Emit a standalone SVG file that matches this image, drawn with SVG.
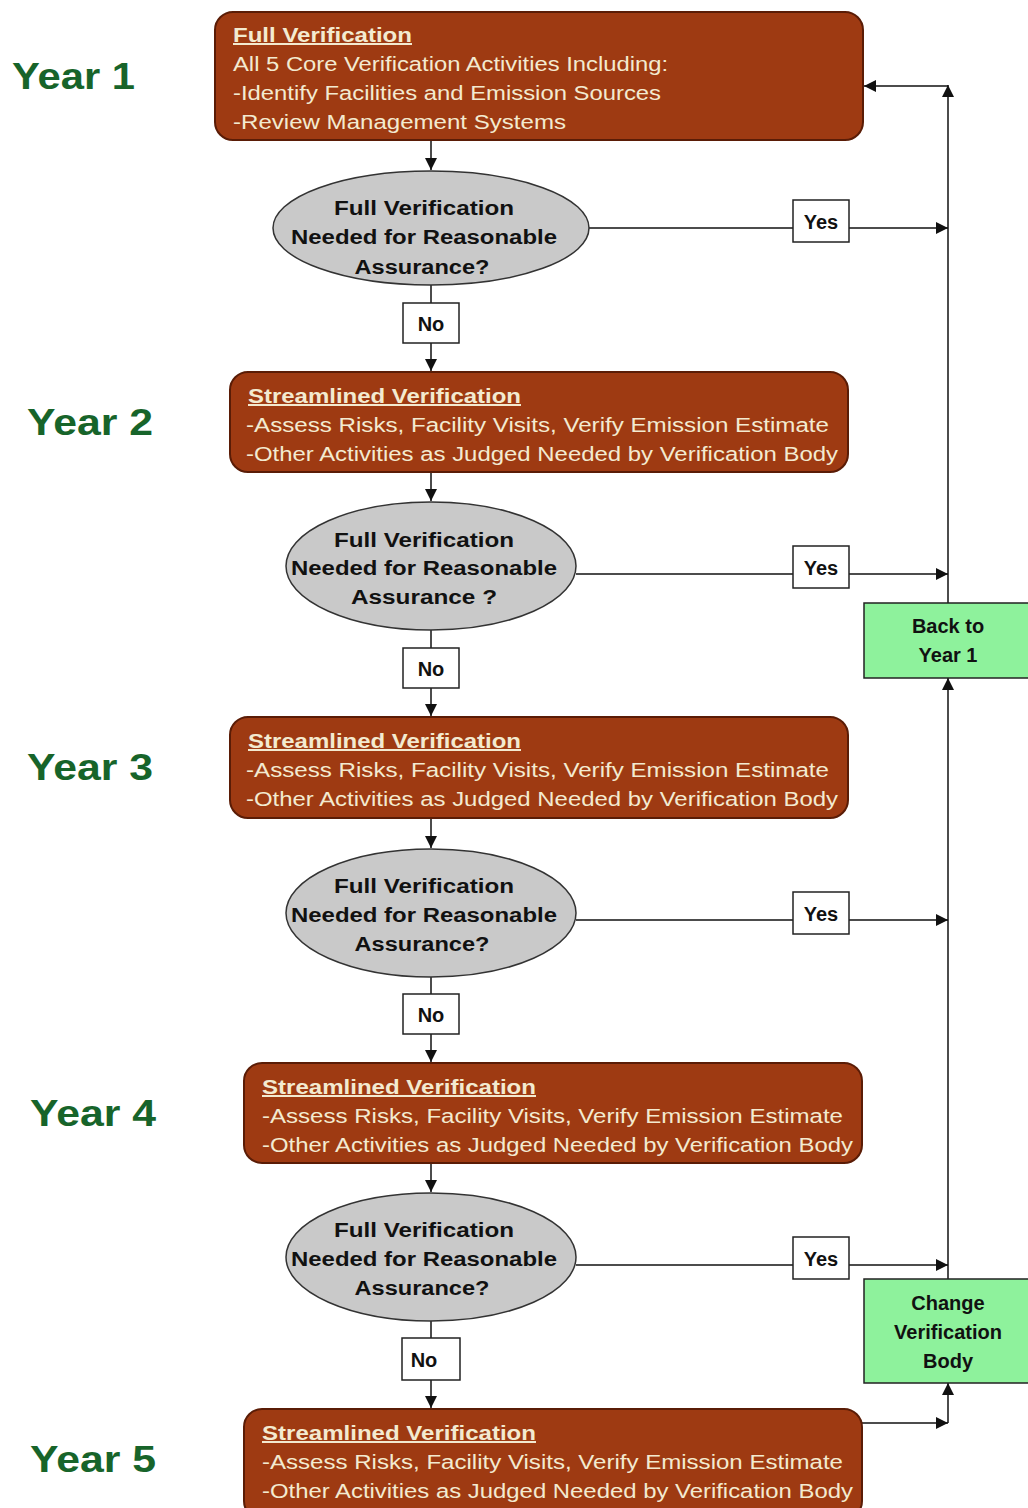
<svg xmlns="http://www.w3.org/2000/svg" width="1028" height="1508" viewBox="0 0 1028 1508">
<defs>
<marker id="ah" viewBox="0 0 10 10" refX="10" refY="5" markerWidth="12" markerHeight="12" markerUnits="userSpaceOnUse" orient="auto"><path d="M0,0 L10,5 L0,10 z" fill="#111"/></marker>
<style>
.box{fill:#9e3a12;stroke:#5a1c06;stroke-width:2}
.bt{font-family:"Liberation Sans",Arial,sans-serif;font-size:20px;fill:#f3ead0}
.bh{font-weight:bold;text-decoration:underline}
.ell{fill:#c9c9c9;stroke:#333;stroke-width:1.5}
.et{font-family:"Liberation Sans",Arial,sans-serif;font-size:20px;font-weight:bold;fill:#111;text-anchor:middle}
.lbl{fill:#fff;stroke:#222;stroke-width:1.5}
.lt{font-family:"Liberation Sans",Arial,sans-serif;font-size:20px;font-weight:bold;fill:#111;text-anchor:middle}
.grn{fill:#8ef29c;stroke:#222;stroke-width:1.5}
.yr{font-family:"Liberation Sans",Arial,sans-serif;font-size:36px;font-weight:bold;fill:#17642a}
.c{fill:none;stroke:#111;stroke-width:1.5}
.ca{fill:none;stroke:#111;stroke-width:1.5;marker-end:url(#ah)}
</style>
</defs>
<rect width="1028" height="1508" fill="#fff"/>

<g id="connectors">
<line class="ca" x1="431" y1="140" x2="431" y2="170"/>
<line class="c" x1="431" y1="285" x2="431" y2="303"/>
<line class="ca" x1="431" y1="343" x2="431" y2="371"/>
<line class="ca" x1="431" y1="472" x2="431" y2="501"/>
<line class="c" x1="431" y1="630" x2="431" y2="648"/>
<line class="ca" x1="431" y1="688" x2="431" y2="716"/>
<line class="ca" x1="431" y1="818" x2="431" y2="848"/>
<line class="c" x1="431" y1="977" x2="431" y2="994"/>
<line class="ca" x1="431" y1="1034" x2="431" y2="1062"/>
<line class="ca" x1="431" y1="1163" x2="431" y2="1192"/>
<line class="c" x1="431" y1="1321" x2="431" y2="1338"/>
<line class="ca" x1="431" y1="1380" x2="431" y2="1408"/>
<line class="c" x1="589" y1="228" x2="793" y2="228"/>
<line class="ca" x1="849" y1="228" x2="948" y2="228"/>
<line class="c" x1="576" y1="574" x2="793" y2="574"/>
<line class="ca" x1="849" y1="574" x2="948" y2="574"/>
<line class="c" x1="576" y1="920" x2="793" y2="920"/>
<line class="ca" x1="849" y1="920" x2="948" y2="920"/>
<line class="c" x1="576" y1="1265" x2="793" y2="1265"/>
<line class="ca" x1="849" y1="1265" x2="948" y2="1265"/>
<line class="ca" x1="948" y1="603" x2="948" y2="85"/>
<line class="ca" x1="948" y1="86" x2="864" y2="86"/>
<line class="ca" x1="948" y1="1279" x2="948" y2="678"/>
<line class="ca" x1="862" y1="1423" x2="948" y2="1423"/>
<line class="ca" x1="948" y1="1423" x2="948" y2="1383"/>
</g>

<g id="year-labels">
<text class="yr" x="12" y="89" textLength="123" lengthAdjust="spacingAndGlyphs">Year 1</text>
<text class="yr" x="27" y="435" textLength="126" lengthAdjust="spacingAndGlyphs">Year 2</text>
<text class="yr" x="27" y="780" textLength="126" lengthAdjust="spacingAndGlyphs">Year 3</text>
<text class="yr" x="30" y="1126" textLength="126" lengthAdjust="spacingAndGlyphs">Year 4</text>
<text class="yr" x="30" y="1472" textLength="126" lengthAdjust="spacingAndGlyphs">Year 5</text>
</g>

<g id="year1-full">
<rect class="box" x="215" y="12" width="648" height="128" rx="18"/>
<text class="bt bh" x="233" y="42" textLength="179" lengthAdjust="spacingAndGlyphs">Full Verification</text>
<text class="bt" x="233" y="71" textLength="435" lengthAdjust="spacingAndGlyphs">All 5 Core Verification Activities Including:</text>
<text class="bt" x="233" y="100" textLength="428" lengthAdjust="spacingAndGlyphs">-Identify Facilities and Emission Sources</text>
<text class="bt" x="233" y="129" textLength="333" lengthAdjust="spacingAndGlyphs">-Review Management Systems</text>
</g>

<g id="decision1">
<ellipse class="ell" cx="431" cy="228" rx="158" ry="57"/>
<text class="et" x="424" y="215" textLength="180" lengthAdjust="spacingAndGlyphs">Full Verification</text>
<text class="et" x="424" y="244" textLength="266" lengthAdjust="spacingAndGlyphs">Needed for Reasonable</text>
<text class="et" x="422" y="274" textLength="135" lengthAdjust="spacingAndGlyphs">Assurance?</text>
</g>
<g id="yes1"><rect class="lbl" x="793" y="200" width="56" height="42"/><text class="lt" x="821" y="229">Yes</text></g>
<g id="no1"><rect class="lbl" x="403" y="303" width="56" height="40"/><text class="lt" x="431" y="331">No</text></g>

<g id="year2-streamlined">
<rect class="box" x="230" y="372" width="618" height="100" rx="18"/>
<text class="bt bh" x="248" y="403" textLength="273" lengthAdjust="spacingAndGlyphs">Streamlined Verification</text>
<text class="bt" x="246" y="432" textLength="583" lengthAdjust="spacingAndGlyphs">-Assess Risks, Facility Visits, Verify Emission Estimate</text>
<text class="bt" x="246" y="461" textLength="592" lengthAdjust="spacingAndGlyphs">-Other Activities as Judged Needed by Verification Body</text>
</g>

<g id="decision2">
<ellipse class="ell" cx="431" cy="566" rx="145" ry="64"/>
<text class="et" x="424" y="547" textLength="180" lengthAdjust="spacingAndGlyphs">Full Verification</text>
<text class="et" x="424" y="575" textLength="266" lengthAdjust="spacingAndGlyphs">Needed for Reasonable</text>
<text class="et" x="424" y="604" textLength="146" lengthAdjust="spacingAndGlyphs">Assurance ?</text>
</g>
<g id="yes2"><rect class="lbl" x="793" y="546" width="56" height="42"/><text class="lt" x="821" y="575">Yes</text></g>
<g id="no2"><rect class="lbl" x="403" y="648" width="56" height="40"/><text class="lt" x="431" y="676">No</text></g>

<g id="year3-streamlined">
<rect class="box" x="230" y="717" width="618" height="101" rx="18"/>
<text class="bt bh" x="248" y="748" textLength="273" lengthAdjust="spacingAndGlyphs">Streamlined Verification</text>
<text class="bt" x="246" y="777" textLength="583" lengthAdjust="spacingAndGlyphs">-Assess Risks, Facility Visits, Verify Emission Estimate</text>
<text class="bt" x="246" y="806" textLength="592" lengthAdjust="spacingAndGlyphs">-Other Activities as Judged Needed by Verification Body</text>
</g>

<g id="decision3">
<ellipse class="ell" cx="431" cy="913" rx="145" ry="64"/>
<text class="et" x="424" y="893" textLength="180" lengthAdjust="spacingAndGlyphs">Full Verification</text>
<text class="et" x="424" y="922" textLength="266" lengthAdjust="spacingAndGlyphs">Needed for Reasonable</text>
<text class="et" x="422" y="951" textLength="135" lengthAdjust="spacingAndGlyphs">Assurance?</text>
</g>
<g id="yes3"><rect class="lbl" x="793" y="892" width="56" height="42"/><text class="lt" x="821" y="921">Yes</text></g>
<g id="no3"><rect class="lbl" x="403" y="994" width="56" height="40"/><text class="lt" x="431" y="1022">No</text></g>

<g id="year4-streamlined">
<rect class="box" x="244" y="1063" width="618" height="100" rx="18"/>
<text class="bt bh" x="262" y="1094" textLength="274" lengthAdjust="spacingAndGlyphs">Streamlined Verification</text>
<text class="bt" x="262" y="1123" textLength="581" lengthAdjust="spacingAndGlyphs">-Assess Risks, Facility Visits, Verify Emission Estimate</text>
<text class="bt" x="262" y="1152" textLength="591" lengthAdjust="spacingAndGlyphs">-Other Activities as Judged Needed by Verification Body</text>
</g>

<g id="decision4">
<ellipse class="ell" cx="431" cy="1257" rx="145" ry="64"/>
<text class="et" x="424" y="1237" textLength="180" lengthAdjust="spacingAndGlyphs">Full Verification</text>
<text class="et" x="424" y="1266" textLength="266" lengthAdjust="spacingAndGlyphs">Needed for Reasonable</text>
<text class="et" x="422" y="1295" textLength="135" lengthAdjust="spacingAndGlyphs">Assurance?</text>
</g>
<g id="yes4"><rect class="lbl" x="793" y="1237" width="56" height="42"/><text class="lt" x="821" y="1266">Yes</text></g>
<g id="no4"><rect class="lbl" x="402" y="1338" width="58" height="42"/><text class="lt" x="424" y="1367">No</text></g>

<g id="year5-streamlined">
<rect class="box" x="244" y="1409" width="618" height="110" rx="18"/>
<text class="bt bh" x="262" y="1440" textLength="274" lengthAdjust="spacingAndGlyphs">Streamlined Verification</text>
<text class="bt" x="262" y="1469" textLength="581" lengthAdjust="spacingAndGlyphs">-Assess Risks, Facility Visits, Verify Emission Estimate</text>
<text class="bt" x="262" y="1498" textLength="591" lengthAdjust="spacingAndGlyphs">-Other Activities as Judged Needed by Verification Body</text>
</g>

<g id="back-to-year1">
<rect class="grn" x="864" y="603" width="170" height="75"/>
<text class="lt" x="948" y="633">Back to</text>
<text class="lt" x="948" y="662">Year 1</text>
</g>

<g id="change-body">
<rect class="grn" x="864" y="1279" width="170" height="104"/>
<text class="lt" x="948" y="1310">Change</text>
<text class="lt" x="948" y="1339">Verification</text>
<text class="lt" x="948" y="1368">Body</text>
</g>
</svg>
